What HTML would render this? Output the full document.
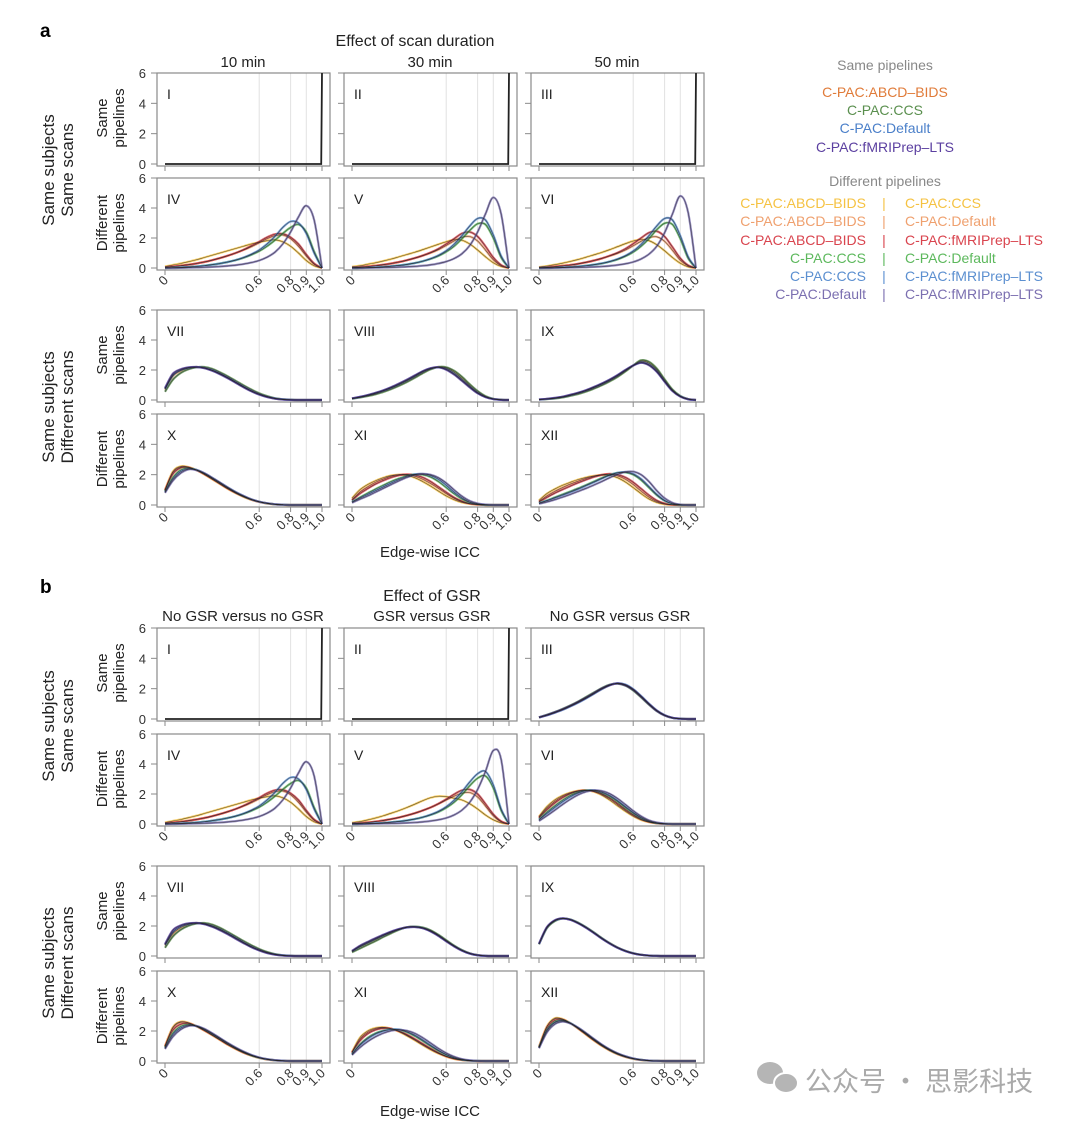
<!DOCTYPE html>
<html><head><meta charset="utf-8">
<style>
html,body{margin:0;padding:0;background:#fff;}
svg{display:block;font-family:"Liberation Sans","Noto Sans CJK SC",sans-serif;}
</style></head>
<body>
<svg id="fig" width="1080" height="1124" viewBox="0 0 1080 1124" xmlns="http://www.w3.org/2000/svg">
<g id="static">
<text x="40" y="37" font-size="19" font-weight="bold">a</text>
<text x="415" y="46" font-size="16" text-anchor="middle" fill="#222">Effect of scan duration</text>
<text x="243" y="67" font-size="15" text-anchor="middle" fill="#222">10 min</text>
<text x="430" y="67" font-size="15" text-anchor="middle" fill="#222">30 min</text>
<text x="617" y="67" font-size="15" text-anchor="middle" fill="#222">50 min</text>
<text x="430" y="557" font-size="15" text-anchor="middle" fill="#222">Edge-wise ICC</text>

<text x="40" y="593" font-size="19" font-weight="bold">b</text>
<text x="432" y="601" font-size="16" text-anchor="middle" fill="#222">Effect of GSR</text>
<text x="243" y="621" font-size="15" text-anchor="middle" fill="#222">No GSR versus no GSR</text>
<text x="432" y="621" font-size="15" text-anchor="middle" fill="#222">GSR versus GSR</text>
<text x="620" y="621" font-size="15" text-anchor="middle" fill="#222">No GSR versus GSR</text>
<text x="430" y="1116" font-size="15" text-anchor="middle" fill="#222">Edge-wise ICC</text>

<g font-size="14" text-anchor="middle">
<text x="885" y="70" fill="#888">Same pipelines</text>
<text x="885" y="97" fill="#e07b39">C-PAC:ABCD–BIDS</text>
<text x="885" y="115" fill="#5a8f4e">C-PAC:CCS</text>
<text x="885" y="133" fill="#4a7fc9">C-PAC:Default</text>
<text x="885" y="152" fill="#5b3fa0">C-PAC:fMRIPrep–LTS</text>
<text x="885" y="186" fill="#888">Different pipelines</text>
</g>
<g font-size="14">
<text x="866" y="208" text-anchor="end" fill="#f5c242">C-PAC:ABCD–BIDS</text><text x="884" y="208" text-anchor="middle" fill="#f5c242">|</text><text x="905" y="208" fill="#f5c242">C-PAC:CCS</text>
<text x="866" y="226" text-anchor="end" fill="#efa06e">C-PAC:ABCD–BIDS</text><text x="884" y="226" text-anchor="middle" fill="#efa06e">|</text><text x="905" y="226" fill="#efa06e">C-PAC:Default</text>
<text x="866" y="245" text-anchor="end" fill="#d9444e">C-PAC:ABCD–BIDS</text><text x="884" y="245" text-anchor="middle" fill="#d9444e">|</text><text x="905" y="245" fill="#d9444e">C-PAC:fMRIPrep–LTS</text>
<text x="866" y="263" text-anchor="end" fill="#5cb85c">C-PAC:CCS</text><text x="884" y="263" text-anchor="middle" fill="#5cb85c">|</text><text x="905" y="263" fill="#5cb85c">C-PAC:Default</text>
<text x="866" y="281" text-anchor="end" fill="#5b8fd0">C-PAC:CCS</text><text x="884" y="281" text-anchor="middle" fill="#5b8fd0">|</text><text x="905" y="281" fill="#5b8fd0">C-PAC:fMRIPrep–LTS</text>
<text x="866" y="299" text-anchor="end" fill="#7b6fb0">C-PAC:Default</text><text x="884" y="299" text-anchor="middle" fill="#7b6fb0">|</text><text x="905" y="299" fill="#7b6fb0">C-PAC:fMRIPrep–LTS</text>
</g>

<g>
<ellipse cx="770" cy="1073" rx="13" ry="11" fill="#b5b5b5"/>
<ellipse cx="786" cy="1083" rx="12" ry="10" fill="#b5b5b5" stroke="#fff" stroke-width="2"/>
<text x="805" y="1091" font-size="27" fill="#aaa" font-family="'Noto Sans CJK SC',sans-serif">公众号 · 思影科技</text>
</g>
</g>
<g id="plots"></g>
</svg>
<script>
// x grid: 0,0.05,...,1.0
const xGrid = [0,0.05,0.1,0.15,0.2,0.25,0.3,0.35,0.4,0.45,0.5,0.55,0.6,0.65,0.7,0.75,0.8,0.85,0.9,0.95,1.0];
const yTicks = [0,2,4,6];
const xTicks = [0,0.6,0.8,0.9,1.0];
const xTickLabels = ["0","0.6","0.8","0.9","1.0"];
const spikeX = [0,0.995,1.0];
const spikeY = [0,0,6];

// a IV
const yA4=[0.1,0.2,0.3,0.42,0.55,0.7,0.85,1.0,1.15,1.3,1.45,1.6,1.72,1.82,1.88,1.75,1.45,1.0,0.5,0.15,0];
const oA4=[0.05,0.1,0.15,0.22,0.3,0.4,0.52,0.66,0.82,1.0,1.2,1.42,1.68,1.95,2.15,2.2,1.95,1.45,0.8,0.25,0];
const rA4=[0.05,0.1,0.15,0.22,0.3,0.4,0.52,0.66,0.82,1.0,1.22,1.48,1.75,2.05,2.25,2.28,2.05,1.6,0.9,0.3,0];
const gA4=[0,0.02,0.04,0.07,0.1,0.15,0.22,0.3,0.4,0.52,0.68,0.88,1.12,1.45,1.85,2.3,2.7,2.9,2.4,1.1,0];
const bA4=[0,0.02,0.04,0.07,0.1,0.15,0.22,0.3,0.4,0.53,0.7,0.92,1.2,1.6,2.1,2.7,3.1,3.0,2.3,1.0,0];
const pA4=[0,0,0.01,0.02,0.03,0.05,0.07,0.1,0.14,0.19,0.26,0.36,0.5,0.72,1.05,1.6,2.4,3.4,4.15,3.2,0];
// a V
const yA5=[0.08,0.15,0.25,0.35,0.47,0.6,0.75,0.9,1.05,1.22,1.4,1.58,1.75,1.88,1.85,1.6,1.2,0.75,0.35,0.1,0];
const oA5=[0.03,0.06,0.1,0.15,0.22,0.3,0.4,0.52,0.66,0.82,1.0,1.22,1.5,1.8,2.05,2.1,1.8,1.2,0.55,0.15,0];
const rA5=[0.03,0.06,0.1,0.15,0.22,0.3,0.4,0.52,0.66,0.83,1.03,1.28,1.6,1.95,2.3,2.4,2.1,1.45,0.7,0.2,0];
const gA5=[0,0.01,0.03,0.05,0.08,0.12,0.17,0.24,0.33,0.45,0.6,0.8,1.08,1.45,1.95,2.5,2.95,2.9,2.0,0.7,0];
const bA5=[0,0.01,0.03,0.05,0.08,0.12,0.17,0.24,0.33,0.45,0.62,0.84,1.15,1.58,2.15,2.8,3.3,3.2,2.2,0.8,0];
const pA5=[0,0,0.01,0.02,0.03,0.04,0.06,0.08,0.11,0.15,0.21,0.3,0.43,0.63,0.95,1.5,2.4,3.6,4.7,3.6,0];
// a VI
const yA6=[0.06,0.13,0.22,0.32,0.44,0.57,0.72,0.88,1.04,1.22,1.42,1.62,1.8,1.9,1.82,1.55,1.15,0.7,0.32,0.08,0];
const oA6=[0.03,0.05,0.09,0.14,0.2,0.28,0.38,0.5,0.64,0.8,0.98,1.2,1.48,1.78,2.02,2.08,1.78,1.18,0.52,0.14,0];
const rA6=[0.02,0.05,0.09,0.14,0.2,0.28,0.38,0.5,0.64,0.82,1.02,1.28,1.62,2.0,2.35,2.45,2.1,1.4,0.65,0.18,0];
const gA6=[0,0.01,0.02,0.04,0.07,0.1,0.15,0.22,0.3,0.42,0.57,0.78,1.06,1.45,1.95,2.55,2.98,2.9,1.95,0.65,0];
const bA6=[0,0.01,0.02,0.04,0.07,0.1,0.15,0.22,0.31,0.43,0.6,0.82,1.13,1.57,2.15,2.8,3.3,3.2,2.15,0.75,0];
const pA6=[0,0,0.01,0.02,0.03,0.04,0.05,0.07,0.1,0.14,0.2,0.28,0.4,0.6,0.92,1.45,2.35,3.6,4.8,3.7,0];
// a VII
const oA7=[0.7,1.6,1.95,2.12,2.2,2.15,2.0,1.78,1.5,1.2,0.9,0.62,0.4,0.22,0.1,0.04,0.01,0,0,0,0];
const gA7=[0.55,1.35,1.8,2.05,2.18,2.2,2.08,1.85,1.58,1.28,0.98,0.7,0.45,0.26,0.12,0.05,0.02,0,0,0,0];
const bA7=[0.75,1.65,2.0,2.15,2.2,2.14,1.98,1.75,1.48,1.18,0.88,0.6,0.38,0.21,0.1,0.04,0.01,0,0,0,0];
const pA7=[0.8,1.75,2.05,2.18,2.2,2.12,1.95,1.72,1.45,1.15,0.85,0.58,0.36,0.2,0.09,0.03,0.01,0,0,0,0];
// a VIII
const oA8=[0.1,0.19,0.3,0.43,0.6,0.8,1.02,1.28,1.55,1.85,2.08,2.2,2.12,1.85,1.42,0.95,0.52,0.22,0.07,0.02,0];
const gA8=[0.08,0.16,0.26,0.38,0.54,0.73,0.95,1.2,1.48,1.78,2.04,2.2,2.18,1.95,1.55,1.05,0.6,0.26,0.08,0.02,0];
const bA8=[0.1,0.2,0.32,0.46,0.63,0.83,1.06,1.32,1.6,1.9,2.1,2.18,2.06,1.76,1.33,0.88,0.47,0.2,0.06,0.01,0];
const pA8=[0.11,0.21,0.33,0.48,0.65,0.86,1.1,1.36,1.64,1.92,2.12,2.18,2.02,1.7,1.28,0.84,0.45,0.19,0.06,0.01,0];
// a IX
const oA9=[0.03,0.07,0.12,0.2,0.32,0.45,0.62,0.82,1.05,1.3,1.6,1.95,2.3,2.58,2.45,2.0,1.3,0.65,0.25,0.06,0];
const gA9=[0.02,0.06,0.1,0.17,0.28,0.4,0.56,0.76,0.98,1.24,1.54,1.9,2.3,2.65,2.55,2.1,1.38,0.7,0.27,0.06,0];
const bA9=[0.03,0.07,0.13,0.21,0.33,0.47,0.64,0.85,1.08,1.34,1.64,1.98,2.3,2.5,2.36,1.92,1.25,0.62,0.24,0.05,0];
const pA9=[0.04,0.08,0.14,0.22,0.35,0.49,0.66,0.87,1.1,1.36,1.66,2.0,2.3,2.48,2.32,1.88,1.22,0.6,0.23,0.05,0];
// a X
const yA10=[1.0,2.2,2.55,2.5,2.3,2.02,1.7,1.38,1.06,0.78,0.54,0.34,0.2,0.1,0.04,0.01,0,0,0,0,0];
const oA10=[1.0,2.15,2.5,2.48,2.3,2.03,1.72,1.4,1.08,0.8,0.55,0.35,0.2,0.1,0.04,0.01,0,0,0,0,0];
const rA10=[0.95,2.05,2.45,2.46,2.3,2.05,1.74,1.42,1.1,0.81,0.56,0.36,0.21,0.11,0.05,0.02,0,0,0,0,0];
const gA10=[0.9,1.8,2.3,2.42,2.32,2.08,1.78,1.46,1.14,0.84,0.58,0.37,0.22,0.11,0.05,0.02,0,0,0,0,0];
const bA10=[0.85,1.7,2.2,2.38,2.32,2.1,1.8,1.48,1.16,0.86,0.6,0.38,0.22,0.12,0.05,0.02,0,0,0,0,0];
const pA10=[0.8,1.6,2.1,2.35,2.3,2.1,1.8,1.48,1.15,0.85,0.6,0.38,0.22,0.12,0.05,0.02,0,0,0,0,0];
// a XI
const yA11=[0.45,1.0,1.35,1.6,1.8,1.95,2.0,1.95,1.8,1.55,1.25,0.92,0.6,0.35,0.17,0.07,0.02,0,0,0,0];
const oA11=[0.35,0.85,1.2,1.5,1.72,1.9,2.0,2.0,1.9,1.7,1.42,1.1,0.75,0.45,0.22,0.09,0.03,0,0,0,0];
const rA11=[0.3,0.75,1.08,1.38,1.62,1.82,1.96,2.02,1.98,1.82,1.55,1.2,0.84,0.5,0.25,0.1,0.03,0,0,0,0];
const gA11=[0.2,0.5,0.78,1.05,1.3,1.55,1.75,1.92,2.02,2.0,1.85,1.55,1.15,0.75,0.4,0.17,0.06,0.01,0,0,0];
const bA11=[0.2,0.45,0.7,0.95,1.2,1.45,1.68,1.88,2.02,2.05,1.95,1.7,1.3,0.85,0.47,0.2,0.07,0.02,0,0,0];
const pA11=[0.15,0.38,0.6,0.85,1.1,1.35,1.6,1.82,1.98,2.05,2.0,1.8,1.45,1.0,0.58,0.27,0.1,0.03,0,0,0];
// a XII
const yA12=[0.3,0.75,1.05,1.3,1.5,1.68,1.82,1.92,1.98,1.95,1.8,1.52,1.15,0.75,0.4,0.17,0.05,0.01,0,0,0];
const oA12=[0.22,0.6,0.9,1.15,1.38,1.58,1.76,1.9,2.0,2.02,1.92,1.7,1.35,0.92,0.52,0.23,0.08,0.02,0,0,0];
const rA12=[0.2,0.5,0.78,1.02,1.25,1.47,1.67,1.85,1.98,2.05,2.0,1.82,1.5,1.08,0.65,0.3,0.1,0.02,0,0,0];
const gA12=[0.12,0.3,0.5,0.7,0.9,1.1,1.32,1.55,1.78,1.98,2.12,2.15,2.0,1.65,1.15,0.65,0.28,0.08,0.01,0,0];
const bA12=[0.12,0.28,0.46,0.65,0.85,1.05,1.28,1.5,1.74,1.96,2.12,2.18,2.05,1.72,1.22,0.7,0.3,0.09,0.02,0,0];
const pA12=[0.08,0.2,0.35,0.52,0.7,0.9,1.1,1.32,1.55,1.8,2.02,2.18,2.2,2.0,1.55,0.95,0.45,0.15,0.03,0,0];
// b III
const oB3=[0.1,0.25,0.42,0.62,0.85,1.1,1.38,1.68,1.98,2.22,2.35,2.25,1.95,1.5,1.0,0.56,0.25,0.08,0.02,0,0];
const gB3=[0.12,0.28,0.46,0.67,0.9,1.16,1.45,1.75,2.04,2.26,2.33,2.2,1.88,1.43,0.95,0.52,0.23,0.07,0.02,0,0];
const bB3=[0.1,0.24,0.41,0.6,0.83,1.08,1.36,1.66,1.97,2.22,2.36,2.27,1.97,1.52,1.02,0.57,0.26,0.08,0.02,0,0];
const pB3=[0.11,0.26,0.44,0.64,0.87,1.13,1.41,1.71,2.01,2.24,2.34,2.22,1.92,1.47,0.98,0.54,0.24,0.08,0.02,0,0];
// b V
const yB5=[0.08,0.16,0.27,0.4,0.55,0.72,0.9,1.1,1.32,1.55,1.75,1.85,1.82,1.72,1.6,1.35,1.0,0.6,0.28,0.08,0];
const oB5=[0.03,0.06,0.1,0.16,0.24,0.33,0.44,0.57,0.72,0.9,1.1,1.34,1.6,1.85,2.05,2.1,1.8,1.2,0.55,0.15,0];
const rB5=[0.03,0.06,0.1,0.16,0.24,0.33,0.44,0.57,0.72,0.9,1.1,1.35,1.65,1.98,2.25,2.3,2.0,1.35,0.65,0.18,0];
const gB5=[0,0.01,0.03,0.05,0.08,0.12,0.17,0.24,0.33,0.45,0.6,0.8,1.08,1.45,1.95,2.55,3.05,3.2,2.4,0.9,0];
const bB5=[0,0.01,0.03,0.05,0.08,0.12,0.17,0.24,0.33,0.45,0.62,0.84,1.15,1.58,2.15,2.8,3.35,3.5,2.6,1.0,0];
const pB5=[0,0,0.01,0.02,0.03,0.04,0.05,0.07,0.1,0.14,0.2,0.28,0.4,0.6,0.92,1.45,2.3,3.5,4.9,4.3,0];
// b VI
const yB6=[0.5,1.15,1.6,1.9,2.1,2.22,2.25,2.15,1.92,1.6,1.22,0.85,0.52,0.27,0.12,0.04,0.01,0,0,0,0];
const oB6=[0.45,1.05,1.5,1.84,2.06,2.2,2.25,2.18,1.98,1.68,1.3,0.92,0.58,0.31,0.14,0.05,0.01,0,0,0,0];
const rB6=[0.4,0.95,1.4,1.76,2.02,2.18,2.25,2.2,2.03,1.75,1.38,0.99,0.63,0.34,0.15,0.05,0.01,0,0,0,0];
const gB6=[0.3,0.78,1.2,1.58,1.9,2.12,2.24,2.24,2.1,1.85,1.5,1.1,0.72,0.4,0.18,0.06,0.02,0,0,0,0];
const bB6=[0.28,0.7,1.1,1.48,1.82,2.07,2.22,2.25,2.14,1.9,1.56,1.16,0.77,0.44,0.2,0.07,0.02,0,0,0,0];
const pB6=[0.2,0.55,0.92,1.3,1.65,1.95,2.15,2.25,2.2,2.02,1.7,1.3,0.88,0.52,0.25,0.1,0.03,0,0,0,0];
// b VII
const oB7=[0.7,1.5,1.9,2.1,2.2,2.16,2.02,1.8,1.52,1.22,0.92,0.64,0.41,0.23,0.11,0.04,0.01,0,0,0,0];
const gB7=[0.55,1.3,1.75,2.02,2.16,2.2,2.1,1.88,1.6,1.3,1.0,0.72,0.47,0.27,0.13,0.05,0.02,0,0,0,0];
const bB7=[0.75,1.6,1.98,2.14,2.2,2.14,1.98,1.76,1.49,1.19,0.89,0.61,0.39,0.21,0.1,0.04,0.01,0,0,0,0];
const pB7=[0.8,1.72,2.04,2.18,2.2,2.12,1.95,1.72,1.45,1.15,0.86,0.59,0.37,0.2,0.09,0.03,0.01,0,0,0,0];
// b VIII
const oB8=[0.3,0.6,0.85,1.1,1.35,1.58,1.78,1.92,1.95,1.88,1.68,1.38,1.02,0.68,0.38,0.17,0.06,0.01,0,0,0];
const gB8=[0.25,0.5,0.75,1.0,1.27,1.52,1.75,1.92,1.96,1.9,1.72,1.42,1.06,0.7,0.4,0.18,0.06,0.01,0,0,0];
const bB8=[0.32,0.64,0.9,1.15,1.39,1.61,1.79,1.91,1.94,1.86,1.66,1.36,1.0,0.66,0.37,0.16,0.05,0.01,0,0,0];
const pB8=[0.34,0.68,0.94,1.19,1.42,1.63,1.8,1.91,1.93,1.85,1.64,1.34,0.98,0.64,0.36,0.16,0.05,0.01,0,0,0];
// b IX
const oB9=[0.8,1.9,2.35,2.5,2.42,2.2,1.9,1.55,1.18,0.85,0.56,0.34,0.18,0.08,0.03,0.01,0,0,0,0,0];
const gB9=[0.78,1.85,2.32,2.5,2.44,2.22,1.92,1.57,1.2,0.86,0.57,0.35,0.19,0.09,0.03,0.01,0,0,0,0,0];
const bB9=[0.8,1.9,2.36,2.5,2.42,2.19,1.89,1.54,1.17,0.84,0.55,0.33,0.18,0.08,0.03,0.01,0,0,0,0,0];
const pB9=[0.82,1.92,2.38,2.51,2.41,2.18,1.88,1.53,1.16,0.83,0.55,0.33,0.17,0.08,0.03,0.01,0,0,0,0,0];
// b X
const yB10=[1.0,2.25,2.62,2.55,2.32,2.03,1.72,1.4,1.08,0.8,0.55,0.35,0.2,0.1,0.04,0.01,0,0,0,0,0];
const oB10=[1.0,2.2,2.58,2.53,2.32,2.04,1.73,1.41,1.09,0.81,0.56,0.36,0.21,0.1,0.04,0.01,0,0,0,0,0];
const rB10=[0.95,2.05,2.45,2.48,2.32,2.06,1.76,1.44,1.12,0.83,0.57,0.37,0.22,0.11,0.05,0.02,0,0,0,0,0];
const gB10=[0.9,1.85,2.3,2.42,2.33,2.1,1.8,1.48,1.16,0.86,0.6,0.38,0.22,0.12,0.05,0.02,0,0,0,0,0];
const bB10=[0.85,1.75,2.2,2.38,2.33,2.12,1.83,1.51,1.18,0.88,0.62,0.4,0.23,0.12,0.05,0.02,0,0,0,0,0];
const pB10=[0.8,1.62,2.1,2.34,2.34,2.15,1.86,1.53,1.2,0.9,0.63,0.41,0.24,0.13,0.06,0.02,0,0,0,0,0];
// b XI
const yB11=[0.6,1.55,2.0,2.2,2.25,2.15,1.95,1.68,1.38,1.06,0.76,0.5,0.29,0.14,0.06,0.02,0,0,0,0,0];
const oB11=[0.55,1.45,1.92,2.15,2.22,2.15,1.97,1.72,1.42,1.1,0.8,0.53,0.31,0.16,0.07,0.02,0,0,0,0,0];
const rB11=[0.55,1.35,1.82,2.08,2.18,2.15,2.0,1.76,1.47,1.15,0.84,0.56,0.33,0.17,0.07,0.02,0,0,0,0,0];
const gB11=[0.45,1.1,1.55,1.85,2.02,2.1,2.08,1.92,1.66,1.34,1.0,0.68,0.41,0.21,0.09,0.03,0.01,0,0,0,0];
const bB11=[0.45,1.05,1.48,1.8,2.0,2.1,2.1,1.96,1.72,1.4,1.05,0.72,0.44,0.23,0.1,0.03,0.01,0,0,0,0];
const pB11=[0.4,0.9,1.3,1.62,1.86,2.02,2.08,2.02,1.84,1.55,1.2,0.84,0.53,0.29,0.13,0.05,0.01,0,0,0,0];
// b XII
const yB12=[0.95,2.3,2.85,2.8,2.52,2.15,1.75,1.36,1.0,0.7,0.45,0.27,0.14,0.06,0.02,0.01,0,0,0,0,0];
const oB12=[0.95,2.28,2.8,2.78,2.52,2.16,1.77,1.38,1.02,0.71,0.46,0.28,0.15,0.07,0.03,0.01,0,0,0,0,0];
const rB12=[0.9,2.15,2.7,2.74,2.52,2.18,1.8,1.41,1.05,0.73,0.48,0.29,0.16,0.07,0.03,0.01,0,0,0,0,0];
const gB12=[0.9,2.05,2.6,2.7,2.52,2.2,1.83,1.44,1.07,0.75,0.49,0.3,0.16,0.08,0.03,0.01,0,0,0,0,0];
const bB12=[0.88,2.0,2.55,2.68,2.52,2.21,1.84,1.45,1.08,0.76,0.5,0.31,0.17,0.08,0.03,0.01,0,0,0,0,0];
const pB12=[0.85,1.9,2.45,2.62,2.5,2.22,1.86,1.47,1.1,0.78,0.52,0.32,0.17,0.08,0.03,0.01,0,0,0,0,0];

const C = {so:'#e07b39',sg:'#5a8f4e',sb:'#4a7fc9',sp:'#5b3fa0',
  dy:'#f5c242',do_:'#efa06e',dr:'#d9444e',dg:'#5cb85c',db:'#5b8fd0',dp:'#7b6fb0'};
const same = (o,g,b,p)=>[[o,C.so],[g,C.sg],[b,C.sb],[p,C.sp]];
const diff = (y,o,r,g,b,p)=>[[y,C.dy],[o,C.do_],[r,C.dr],[g,C.dg],[b,C.db],[p,C.dp]];

const colLeft=[157,344,531];
const panels=[
 {c:0,t:73,z:164,l:'I',spike:true,xl:false},
 {c:1,t:73,z:164,l:'II',spike:true,xl:false},
 {c:2,t:73,z:164,l:'III',spike:true,xl:false},
 {c:0,t:178,z:268,l:'IV',cv:diff(yA4,oA4,rA4,gA4,bA4,pA4),xl:true},
 {c:1,t:178,z:268,l:'V',cv:diff(yA5,oA5,rA5,gA5,bA5,pA5),xl:true},
 {c:2,t:178,z:268,l:'VI',cv:diff(yA6,oA6,rA6,gA6,bA6,pA6),xl:true},
 {c:0,t:310,z:400,l:'VII',cv:same(oA7,gA7,bA7,pA7),xl:false},
 {c:1,t:310,z:400,l:'VIII',cv:same(oA8,gA8,bA8,pA8),xl:false},
 {c:2,t:310,z:400,l:'IX',cv:same(oA9,gA9,bA9,pA9),xl:false},
 {c:0,t:414,z:505,l:'X',cv:diff(yA10,oA10,rA10,gA10,bA10,pA10),xl:true},
 {c:1,t:414,z:505,l:'XI',cv:diff(yA11,oA11,rA11,gA11,bA11,pA11),xl:true},
 {c:2,t:414,z:505,l:'XII',cv:diff(yA12,oA12,rA12,gA12,bA12,pA12),xl:true},
 {c:0,t:628,z:719,l:'I',spike:true,xl:false},
 {c:1,t:628,z:719,l:'II',spike:true,xl:false},
 {c:2,t:628,z:719,l:'III',cv:same(oB3,gB3,bB3,pB3),xl:false},
 {c:0,t:734,z:824,l:'IV',cv:diff(yA4,oA4,rA4,gA4,bA4,pA4),xl:true},
 {c:1,t:734,z:824,l:'V',cv:diff(yB5,oB5,rB5,gB5,bB5,pB5),xl:true},
 {c:2,t:734,z:824,l:'VI',cv:diff(yB6,oB6,rB6,gB6,bB6,pB6),xl:true},
 {c:0,t:866,z:956,l:'VII',cv:same(oB7,gB7,bB7,pB7),xl:false},
 {c:1,t:866,z:956,l:'VIII',cv:same(oB8,gB8,bB8,pB8),xl:false},
 {c:2,t:866,z:956,l:'IX',cv:same(oB9,gB9,bB9,pB9),xl:false},
 {c:0,t:971,z:1061,l:'X',cv:diff(yB10,oB10,rB10,gB10,bB10,pB10),xl:true},
 {c:1,t:971,z:1061,l:'XI',cv:diff(yB11,oB11,rB11,gB11,bB11,pB11),xl:true},
 {c:2,t:971,z:1061,l:'XII',cv:diff(yB12,oB12,rB12,gB12,bB12,pB12),xl:true},
];
const rowLabels=[
 {y:118,a:'Same',b:'pipelines'},{y:223,a:'Different',b:'pipelines'},
 {y:355,a:'Same',b:'pipelines'},{y:459,a:'Different',b:'pipelines'},
 {y:673,a:'Same',b:'pipelines'},{y:779,a:'Different',b:'pipelines'},
 {y:911,a:'Same',b:'pipelines'},{y:1016,a:'Different',b:'pipelines'}];
const groupLabels=[
 {y:170,a:'Same subjects',b:'Same scans'},{y:407,a:'Same subjects',b:'Different scans'},
 {y:726,a:'Same subjects',b:'Same scans'},{y:963,a:'Same subjects',b:'Different scans'}];

const NS='http://www.w3.org/2000/svg';
const root=document.getElementById('plots');
function mk(tag,attrs,parent){const e=document.createElementNS(NS,tag);for(const k in attrs)e.setAttribute(k,attrs[k]);(parent||root).appendChild(e);return e;}
function smooth(pts){
  let d='M'+pts[0][0].toFixed(2)+','+pts[0][1].toFixed(2);
  for(let i=0;i<pts.length-1;i++){
    const p0=pts[i-1]||pts[i],p1=pts[i],p2=pts[i+1],p3=pts[i+2]||p2;
    const c1=[p1[0]+(p2[0]-p0[0])/6,p1[1]+(p2[1]-p0[1])/6];
    const c2=[p2[0]-(p3[0]-p1[0])/6,p2[1]-(p3[1]-p1[1])/6];
    d+='C'+c1[0].toFixed(2)+','+c1[1].toFixed(2)+' '+c2[0].toFixed(2)+','+c2[1].toFixed(2)+' '+p2[0].toFixed(2)+','+p2[1].toFixed(2);
  }
  return d;
}
panels.forEach(p=>{
  const L=colLeft[p.c], W=173, x0=L+8, x1=L+165;
  const xs=v=>x0+v*(x1-x0);
  const ys=v=>p.z-v*(p.z-p.t)/6;
  const bottom=p.z+2;
  const g=mk('g',{});
  
  
  [0.6,0.8,0.9].forEach(v=>{const ln=mk('line',{x1:xs(v),x2:xs(v),y1:p.t,y2:bottom,stroke:'#e2e2e2','stroke-width':1},g);
    });
  const box=mk('rect',{x:L,y:p.t,width:W,height:bottom-p.t,fill:'none',stroke:'#8a8a8a','stroke-width':1.2},g);
  
  yTicks.forEach(v=>{
    mk('line',{x1:L-6,x2:L,y1:ys(v),y2:ys(v),stroke:'#8a8a8a','stroke-width':1},g);
    if(p.c===0){
      const t=mk('text',{x:L-11,y:ys(v)+5,'font-size':13,'text-anchor':'end',fill:'#333'},g);t.textContent=v;
      
    }
  });
  xTicks.forEach((v,i)=>{
    mk('line',{x1:xs(v),x2:xs(v),y1:bottom,y2:bottom+5,stroke:'#8a8a8a','stroke-width':1},g);
    if(p.xl){const tx=xs(v)+4, ty=bottom+11;
      const t=mk('text',{x:tx,y:ty,'font-size':13,'text-anchor':'end',fill:'#333',transform:'rotate(-45 '+tx+' '+ty+')'},g);
      t.textContent=xTickLabels[i];
      }
  });
  const lab=mk('text',{x:L+10,y:p.t+26,'font-size':14,fill:'#222'},g);lab.textContent=p.l;
  
  if(p.spike){
    const d='M'+spikeX.map((v,i)=>xs(v)+','+ys(spikeY[i])).join('L');
    const s=mk('path',{d:d,fill:'none',stroke:'#222','stroke-width':1.8},g);
    
  } else {
    p.cv.forEach(([arr,col])=>{
      const pts=arr.map((v,i)=>[xs(xGrid[i]),ys(v)]);
      const a=mk('path',{d:smooth(pts),fill:'none',stroke:col,'stroke-width':2.2,'stroke-opacity':0.8},g);
      
    });
    p.cv.forEach(([arr,col])=>{
      const pts=arr.map((v,i)=>[xs(xGrid[i]),ys(v)]);
      const b=mk('path',{d:smooth(pts),fill:'none',stroke:'#222','stroke-width':0.6,'stroke-opacity':0.7},g);
      
    });
  }
});
rowLabels.forEach(r=>{
  const t=mk('text',{transform:'translate(107,'+r.y+') rotate(-90)','font-size':15,'text-anchor':'middle',fill:'#222'});
  
  const s1=mk('tspan',{x:0,y:0},t);s1.textContent=r.a;
  const s2=mk('tspan',{x:0,y:17},t);s2.textContent=r.b;
});
groupLabels.forEach(r=>{
  const t=mk('text',{transform:'translate(54,'+r.y+') rotate(-90)','font-size':17,'text-anchor':'middle',fill:'#222'});
  
  const s1=mk('tspan',{x:0,y:0},t);s1.textContent=r.a;
  const s2=mk('tspan',{x:0,y:19},t);s2.textContent=r.b;
});
</script>
</body></html>
